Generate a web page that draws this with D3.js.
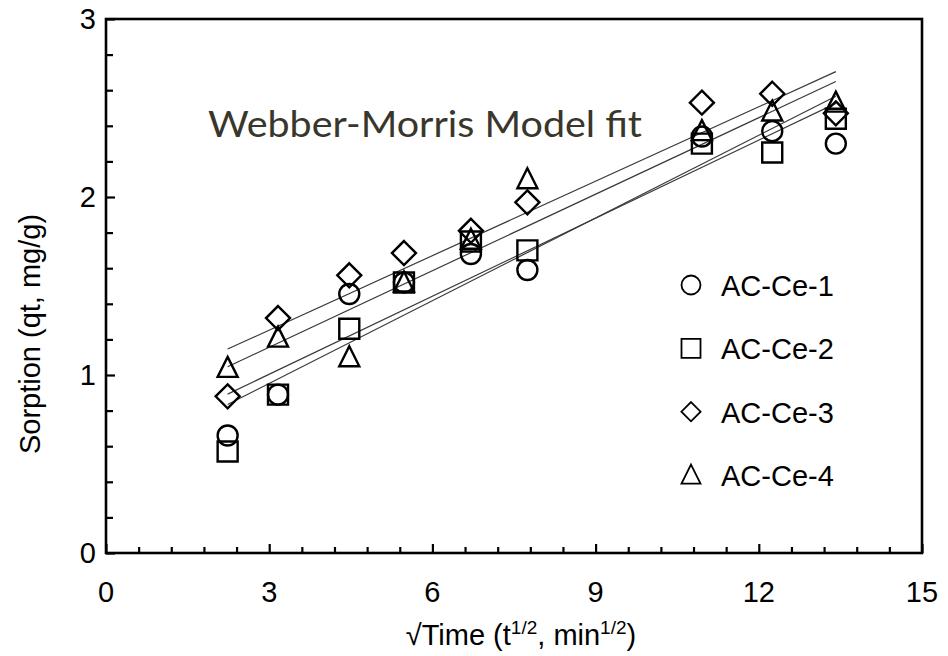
<!DOCTYPE html>
<html>
<head>
<meta charset="utf-8">
<script src="https://cdn.jsdelivr.net/npm/d3@7"></script>
<style>
  html, body { margin: 0; padding: 0; background: #fff; }
  svg { display: block; }
</style>
</head>
<body>
<svg id="chart" width="948" height="656"></svg>
<script>
// Square-root of contact time, t^1/2 (min^1/2)
const sqrtTime = [2.236, 3.162, 4.472, 5.477, 6.708, 7.746, 10.954, 12.247, 13.416];

// Sorbed amount qt (mg/g) for each adsorbent
const seriesNames = ["AC-Ce-1", "AC-Ce-2", "AC-Ce-3", "AC-Ce-4"];
const acCe1 = [0.66, 0.89, 1.455, 1.52, 1.68, 1.59, 2.34, 2.37, 2.30];
const acCe2 = [0.57, 0.89, 1.26, 1.52, 1.75, 1.70, 2.30, 2.25, 2.44];
const acCe3 = [0.88, 1.32, 1.56, 1.685, 1.81, 1.97, 2.53, 2.58, 2.47];
const acCe4 = [1.04, 1.21, 1.10, 1.52, 1.76, 2.10, 2.37, 2.48, 2.53];

// Intraparticle-diffusion (Weber-Morris) fit: qt = k * t^1/2 + C
const fitSlope = [0.1461, 0.1549, 0.1394, 0.1433];
const fitIntercept = [0.566, 0.488, 0.834, 0.726];

// Axis ticks
const xTickLabels = [0, 3, 6, 9, 12, 15];
const yTickLabels = [0, 1, 2, 3];

const seriesValues = [acCe1, acCe2, acCe3, acCe4];
const markerKinds = ["circle", "square", "diamond", "triangle"];

const svg = d3.select("#chart");
const margin = { left: 106, right: 26, top: 19, bottom: 103 };
const W = 948, H = 656;

const x = d3.scaleLinear().domain([0, 15]).range([margin.left, W - margin.right]);
const y = d3.scaleLinear().domain([0, 3]).range([H - margin.bottom, margin.top]);

const axisFont = "'Liberation Sans', Arial, sans-serif";

// Marker path builder (centred at 0,0)
function markerPath(kind, s) {
  const p = d3.path();
  if (kind === "circle") {
    p.moveTo(s, 0); p.arc(0, 0, s, 0, 2 * Math.PI);
  } else if (kind === "square") {
    p.rect(-s, -s, 2 * s, 2 * s);
  } else if (kind === "diamond") {
    const d = s * 1.2;
    p.moveTo(0, -d); p.lineTo(d, 0); p.lineTo(0, d); p.lineTo(-d, 0); p.closePath();
  } else {
    const h = s * 2;
    p.moveTo(0, -h * 0.55); p.lineTo(s, h * 0.45); p.lineTo(-s, h * 0.45); p.closePath();
  }
  return p.toString();
}

// Fit lines (drawn beneath the markers)
const xExt = d3.extent(sqrtTime);
const line = d3.line().x(d => x(d[0])).y(d => y(d[1]));
svg.append("g").selectAll("path")
  .data(seriesNames.map((n, i) => xExt.map(t => [t, fitSlope[i] * t + fitIntercept[i]])))
  .join("path")
  .attr("d", line)
  .attr("fill", "none")
  .attr("stroke", "#3a3a3a")
  .attr("stroke-width", 1.2);

// Data markers
seriesValues.forEach((vals, i) => {
  svg.append("g").selectAll("path")
    .data(vals.map((v, j) => [sqrtTime[j], v]))
    .join("path")
    .attr("transform", d => `translate(${x(d[0])},${y(d[1])})`)
    .attr("d", markerPath(markerKinds[i], 10))
    .attr("fill", "none")
    .attr("stroke", "#000")
    .attr("stroke-width", 2.4);
});

// Axes: ticks point inward, minor ticks between labelled values
const xAxis = d3.axisBottom(x)
  .tickValues(d3.range(0, 15.001, 0.6))
  .tickSizeInner(0).tickSizeOuter(0).tickFormat("");
const gx = svg.append("g").attr("transform", `translate(0,${y(0)})`).call(xAxis);
gx.selectAll(".tick line")
  .attr("y2", d => (Math.abs(d / 3 - Math.round(d / 3)) < 1e-6) ? -9 : -6)
  .attr("stroke", "#000").attr("stroke-width", 2.2);

const yAxis = d3.axisLeft(y)
  .tickValues(d3.range(0, 3.001, 0.2))
  .tickSizeInner(0).tickSizeOuter(0).tickFormat("");
const gy = svg.append("g").attr("transform", `translate(${x(0)},0)`).call(yAxis);
gy.selectAll(".tick line")
  .attr("x2", d => (Math.abs(d - Math.round(d)) < 1e-6) ? 9 : 7)
  .attr("stroke", "#000").attr("stroke-width", 2.2);
svg.selectAll(".domain").remove();

// Plot frame
svg.append("rect")
  .attr("x", x(0)).attr("y", y(3))
  .attr("width", x(15) - x(0)).attr("height", y(0) - y(3))
  .attr("fill", "none").attr("stroke", "#000").attr("stroke-width", 2.6);

// Tick labels
svg.append("g").selectAll("text").data(xTickLabels).join("text")
  .attr("x", d => x(d)).attr("y", y(0) + 49)
  .attr("text-anchor", "middle")
  .attr("font-family", axisFont).attr("font-size", 29)
  .text(d => d);

svg.append("g").selectAll("text").data(yTickLabels).join("text")
  .attr("x", x(0) - 10).attr("y", d => y(d) + 10)
  .attr("text-anchor", "end")
  .attr("font-family", axisFont).attr("font-size", 29)
  .text(d => d);

// Axis titles
const xt = svg.append("text")
  .attr("x", (x(0) + x(15)) / 2 + 7).attr("y", 645)
  .attr("text-anchor", "middle")
  .attr("font-family", axisFont).attr("font-size", 29);
xt.append("tspan").text("\u221ATime (t");
xt.append("tspan").attr("font-size", 19).attr("dy", -11).text("1/2");
xt.append("tspan").attr("dy", 11).text(", min");
xt.append("tspan").attr("font-size", 19).attr("dy", -11).text("1/2");
xt.append("tspan").attr("dy", 11).text(")");

svg.append("text")
  .attr("transform", `translate(40,334) rotate(-90)`)
  .attr("text-anchor", "middle")
  .attr("font-family", axisFont).attr("font-size", 29)
  .text("Sorption (qt, mg/g)");

// Annotation
svg.append("text")
  .attr("x", 208).attr("y", 137)
  .attr("font-family", "Lato, 'Open Sans', sans-serif")
  .attr("font-size", 36)
  .attr("fill", "#39362b")
  .attr("textLength", 434).attr("lengthAdjust", "spacingAndGlyphs")
  .text("Webber-Morris Model fit");

// Legend
const legend = svg.append("g");
const legendRow = d3.scalePoint().domain(seriesNames).range([285, 475]);
seriesNames.forEach((name, i) => {
  const cy = legendRow(name);
  legend.append("path")
    .attr("transform", `translate(691,${cy})`)
    .attr("d", markerPath(markerKinds[i], markerKinds[i] === "diamond" ? 8 : 9.5))
    .attr("fill", "none").attr("stroke", "#000").attr("stroke-width", 1.8);
  legend.append("text")
    .attr("x", 721).attr("y", cy + 11)
    .attr("font-family", axisFont).attr("font-size", 29)
    .text(name);
});
</script>
</body>
</html>
